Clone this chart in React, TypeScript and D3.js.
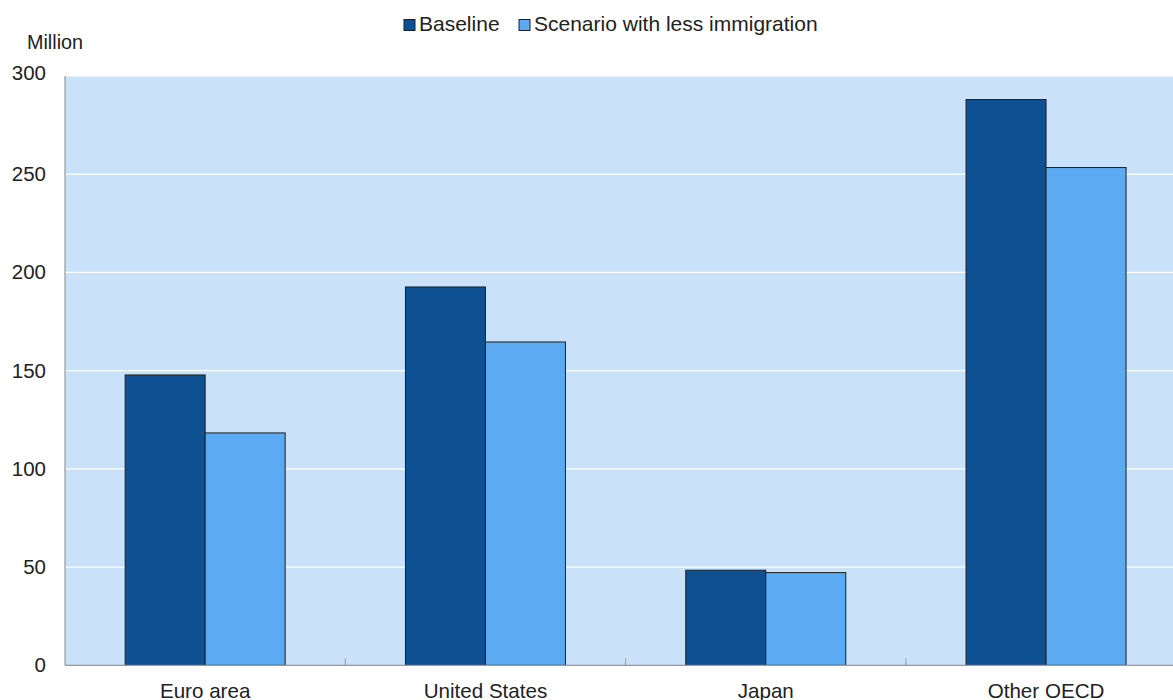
import React from "react";
import * as d3 from "d3";

const categories = ["Euro area", "United States", "Japan", "Other OECD"];
const seriesNames = ["Baseline", "Scenario with less immigration"];
const baseline = [147.8, 192.6, 48.4, 288.0];
const lessImmigration = [118.3, 164.6, 47.2, 253.4];
const yTicks = [0, 50, 100, 150, 200, 250, 300];
const colors = ["#0E5193", "#5BAAF2"];

const W = 1173;
const H = 700;
const left = 65;
const top = 76;
const bottom = 665.3;
const bandW = 280.3;

export default function App() {
  const x = d3
    .scaleBand<string>()
    .domain(categories)
    .range([left, left + bandW * categories.length])
    .paddingInner(0)
    .paddingOuter(0);
  const inner = d3
    .scaleBand<number>()
    .domain([0, 1])
    .range([0, 160]);
  const y = d3.scaleLinear().domain([0, 300]).range([bottom, top]);
  const series = [baseline, lessImmigration];
  const font = "'Liberation Sans', Arial, sans-serif";
  const textColor = "#222";

  return (
    <svg
      width={W}
      height={H}
      style={{ position: "absolute", left: 0, top: 0, background: "#fff" }}
      fontFamily={font}
    >
      {/* plot background */}
      <rect x={left} y={top} width={W - left} height={bottom - top} fill="#C9E2F9" />
      {/* horizontal gridlines */}
      {yTicks.filter((t) => t > 0).map((t) => (
        <line key={t} x1={left} x2={W} y1={y(t)} y2={y(t)} stroke="#fff" strokeWidth={1.2} />
      ))}
      {/* bars */}
      {categories.map((c, i) => {
        const cx = (x(c) as number) + x.bandwidth() / 2 - 80;
        return series.map((s, j) => (
          <rect
            key={c + j}
            x={cx + (inner(j) as number)}
            y={y(s[i])}
            width={inner.bandwidth()}
            height={bottom - y(s[i])}
            fill={colors[j]}
            stroke="#1b1f26"
            strokeWidth={1}
          />
        ));
      })}
      {/* axes */}
      <line x1={left} x2={left} y1={top} y2={bottom} stroke="#999" strokeWidth={1.2} />
      <line x1={left} x2={W} y1={bottom} y2={bottom} stroke="#999" strokeWidth={1.2} />
      {categories.slice(1).map((c) => (
        <line
          key={c}
          x1={x(c) as number}
          x2={x(c) as number}
          y1={bottom}
          y2={bottom - 7}
          stroke="#999"
          strokeWidth={1}
        />
      ))}
      {/* y tick labels */}
      {yTicks.map((t) => (
        <text
          key={t}
          x={46}
          y={y(t) + (t === 300 ? 4 : 7)}
          textAnchor="end"
          fontSize={20.5}
          fill={textColor}
        >
          {t}
        </text>
      ))}
      <text x={27} y={48.5} fontSize={19.8} fill={textColor}>
        Million
      </text>
      {/* category labels */}
      {categories.map((c) => (
        <text
          key={c}
          x={(x(c) as number) + x.bandwidth() / 2}
          y={697.5}
          textAnchor="middle"
          fontSize={20.6}
          fill={textColor}
        >
          {c}
        </text>
      ))}
      {/* legend */}
      {[404, 519].map((lx, j) => (
        <g key={j}>
          <rect x={lx} y={19.5} width={11} height={11} fill={colors[j]} stroke="#1b1f26" strokeWidth={1} />
          <text x={lx + 15} y={31} fontSize={21} fill={textColor}>
            {seriesNames[j]}
          </text>
        </g>
      ))}
    </svg>
  );
}
